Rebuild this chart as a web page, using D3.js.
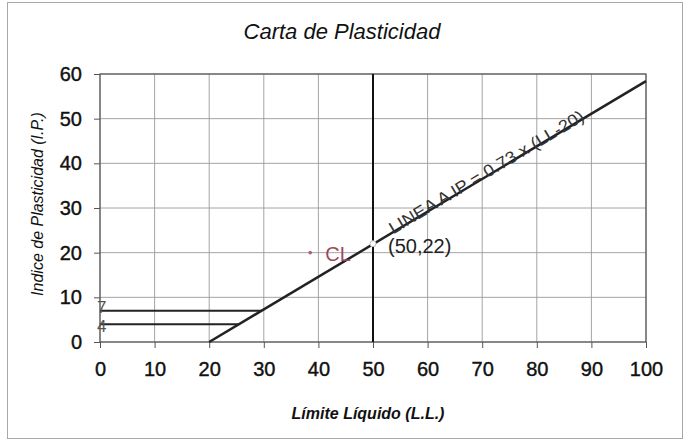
<!DOCTYPE html>
<html>
<head>
<meta charset="utf-8">
<script src="https://cdn.jsdelivr.net/npm/d3@7"></script>
<style>
  body { margin: 0; background: #fff; }
  svg { display: block; font-family: Arial, "Liberation Sans", sans-serif; }
</style>
</head>
<body>
<div id="chart"></div>
<script>
(function () {
  // ---- data ----
  const xTicks = [0, 10, 20, 30, 40, 50, 60, 70, 80, 90, 100];
  const yTicks = [0, 10, 20, 30, 40, 50, 60];
  const lineA = [[20, 0], [100, 58.4]];          // IP = 0.73 x (LL-20)
  const lineB = [[50, 0], [50, 60]];             // LL = 50
  const limitIP = [7, 4];                        // horizontal limits
  const limitLL = [29.6, 25.5];                  // where they meet line A
  const pointCL = [38.5, 20];
  const point5022 = [50, 22];

  const W = 688, H = 441;
  const margin = { top: 74, right: 40, bottom: 99, left: 100 };

  const svg = d3.select("#chart").append("svg")
    .attr("width", W)
    .attr("height", H);

  // outer frame
  svg.append("rect")
    .attr("x", 7.5).attr("y", 2.5)
    .attr("width", 675).attr("height", 436)
    .attr("fill", "none")
    .attr("stroke", "#a8a8a8")
    .attr("stroke-width", 1);

  const x = d3.scaleLinear().domain([0, 100]).range([margin.left, W - margin.right - 2]);
  const y = d3.scaleLinear().domain([0, 60]).range([H - margin.bottom, margin.top]);

  // grid
  const grid = svg.append("g");
  grid.selectAll("line.v").data(xTicks).join("line")
    .attr("class", "v")
    .attr("x1", d => x(d)).attr("x2", d => x(d))
    .attr("y1", y(0)).attr("y2", y(60))
    .attr("stroke", "#9a9a9a").attr("stroke-width", 0.9);
  grid.selectAll("line.h").data(yTicks).join("line")
    .attr("class", "h")
    .attr("x1", x(0)).attr("x2", x(100))
    .attr("y1", d => y(d)).attr("y2", d => y(d))
    .attr("stroke", "#9a9a9a").attr("stroke-width", 0.9);

  // plot border
  svg.append("rect")
    .attr("x", x(0)).attr("y", y(60))
    .attr("width", x(100) - x(0)).attr("height", y(0) - y(60))
    .attr("fill", "none").attr("stroke", "#555").attr("stroke-width", 1.2);

  // axes
  const gx = svg.append("g")
    .attr("transform", `translate(0,${y(0)})`)
    .call(d3.axisBottom(x).tickValues(xTicks).tickSize(6).tickPadding(14));
  const gy = svg.append("g")
    .attr("transform", `translate(${x(0)},0)`)
    .call(d3.axisLeft(y).tickValues(yTicks).tickSize(6).tickPadding(12));
  gx.select(".domain").remove();
  gy.select(".domain").remove();
  gx.selectAll("line").attr("stroke", "#555");
  gy.selectAll("line").attr("stroke", "#555");
  [gx, gy].forEach(g => g.selectAll("text")
    .attr("font-size", 20).attr("fill", "#111")
    .attr("stroke", "#111").attr("stroke-width", 0.4)
    .attr("font-family", "Arial, 'Liberation Sans', sans-serif"));

  const line = d3.line().x(d => x(d[0])).y(d => y(d[1]));

  // vertical LL=50
  svg.append("path").datum(lineB)
    .attr("d", line)
    .attr("stroke", "#111").attr("stroke-width", 2).attr("fill", "none");

  // horizontal limits at IP 7 and 4
  svg.selectAll("line.lim").data(limitIP).join("line")
    .attr("class", "lim")
    .attr("x1", x(0)).attr("x2", (d, i) => x(limitLL[i]))
    .attr("y1", d => y(d)).attr("y2", d => y(d))
    .attr("stroke", "#222").attr("stroke-width", 2);

  svg.selectAll("text.lim").data(limitIP).join("text")
    .attr("class", "lim")
    .attr("x", x(0) - 3)
    .attr("y", (d, i) => y(d) + (i === 0 ? 2 : 8))
    .attr("font-size", 17)
    .attr("fill", "#555")
    .text(d => d);

  // line A
  svg.append("path").datum(lineA)
    .attr("d", line)
    .attr("stroke", "#222").attr("stroke-width", 2.5).attr("fill", "none");

  // label along line A
  const ang = Math.atan2(y(lineA[1][1]) - y(lineA[0][1]), x(lineA[1][0]) - x(lineA[0][0])) * 180 / Math.PI;
  const tx = x(53.5), ty = y(0.73 * (53.5 - 20));
  svg.append("text")
    .attr("transform", `translate(${tx},${ty}) rotate(${ang})`)
    .attr("x", 0).attr("y", 2)
    .attr("font-size", 17)
    .attr("fill", "#333")
    .attr("textLength", 224)
    .attr("lengthAdjust", "spacingAndGlyphs")
    .text("LINEA A IP = 0.73 x (LL-20)");

  // point (50,22)
  svg.append("circle")
    .attr("cx", x(point5022[0])).attr("cy", y(point5022[1]))
    .attr("r", 3)
    .attr("fill", "#fff").attr("stroke", "#bbb").attr("stroke-width", 1);
  svg.append("text")
    .attr("x", x(point5022[0]) + 15).attr("y", y(point5022[1]) + 9)
    .attr("font-size", 20).attr("fill", "#222")
    .text("(50,22)");

  // CL point
  svg.append("circle")
    .attr("cx", x(pointCL[0])).attr("cy", y(pointCL[1]))
    .attr("r", 1.8)
    .attr("fill", "#b06070");
  svg.append("text")
    .attr("x", x(pointCL[0]) + 15).attr("y", y(pointCL[1]) + 8)
    .attr("font-size", 20).attr("fill", "#9a4a5a")
    .text("CL");

  // title and axis labels
  svg.append("text")
    .attr("x", 342).attr("y", 39)
    .attr("text-anchor", "middle")
    .attr("font-size", 22).attr("font-style", "italic").attr("fill", "#111")
    .text("Carta de Plasticidad");

  svg.append("text")
    .attr("transform", "translate(43,204) rotate(-90)")
    .attr("text-anchor", "middle")
    .attr("font-size", 16).attr("font-style", "italic").attr("fill", "#111")
    .text("Indice de Plasticidad (I.P.)");

  svg.append("text")
    .attr("x", 368).attr("y", 419)
    .attr("text-anchor", "middle")
    .attr("font-size", 16).attr("font-style", "italic").attr("font-weight", "bold").attr("fill", "#111")
    .text("Límite Líquido (L.L.)");
})();
</script>
</body>
</html>
